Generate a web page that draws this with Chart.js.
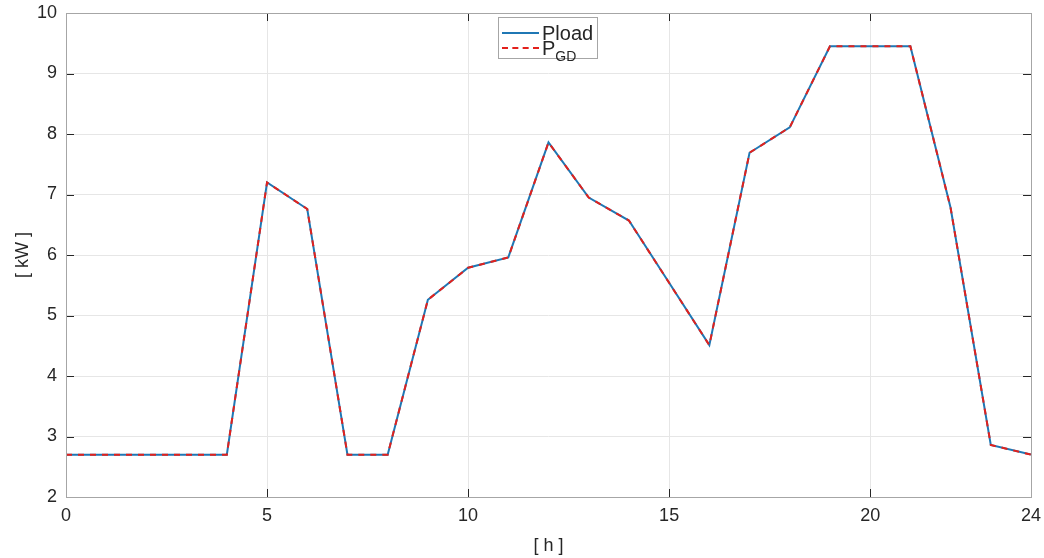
<!DOCTYPE html>
<html>
<head>
<meta charset="utf-8">
<script src="https://cdn.jsdelivr.net/npm/chart.js@4/dist/chart.umd.min.js"></script>
<style>
  html, body { margin: 0; padding: 0; background: #fff; }
  #wrap { position: relative; width: 1044px; height: 558px; }
  #legend {
    position: absolute; background: #fff; border: 1px solid #a6a6a6;
    font-family: "Liberation Sans", Arial, sans-serif; font-size: 20px; color: #262626;
    box-sizing: border-box;
  }
  #legend .row { position: absolute; left: 3px; height: 20px; display: flex; align-items: center; white-space: nowrap; }
  #legend .sw { width: 37px; height: 0; margin-right: 3px; }
  #legend sub { font-size: 14px; position: relative; top: 6px; vertical-align: baseline; line-height: 0; }
</style>
</head>
<body>
<div id="wrap">
  <canvas id="c" width="1044" height="558"></canvas>
  <div id="legend"></div>
</div>
<script>
const hours = [0,1,2,3,4,5,6,7,8,9,10,11,12,13,14,15,16,17,18,19,20,21,22,23,24];
const pload = [2.7,2.7,2.7,2.7,2.7,7.2,6.76,2.7,2.7,5.26,5.79,5.96,7.86,6.95,6.57,5.54,4.51,7.69,8.11,9.45,9.45,9.45,6.78,2.86,2.70];
const pgd   = [2.7,2.7,2.7,2.7,2.7,7.2,6.76,2.7,2.7,5.26,5.79,5.96,7.86,6.95,6.57,5.54,4.51,7.69,8.11,9.45,9.45,9.45,6.78,2.86,2.70];
const seriesNames = ["Pload", "P<sub>GD</sub>"];
const xTitle = "[ h ]";
const yTitle = "[ kW ]";

const FONT = "'Liberation Sans', Arial, sans-serif";
const TXT = '#262626';

const innerTicks = {
  id: 'innerTicks',
  afterDraw(chart) {
    const {ctx, chartArea: a, scales} = chart;
    ctx.save();
    ctx.strokeStyle = '#262626';
    ctx.lineWidth = 1;
    const L = 8;
    scales.x.ticks.forEach(t => {
      const px = Math.round(scales.x.getPixelForValue(t.value)) + 0.5;
      ctx.beginPath();
      ctx.moveTo(px, a.bottom); ctx.lineTo(px, a.bottom - L);
      ctx.moveTo(px, a.top); ctx.lineTo(px, a.top + L);
      ctx.stroke();
    });
    scales.y.ticks.forEach(t => {
      const py = Math.round(scales.y.getPixelForValue(t.value)) + 0.5;
      ctx.beginPath();
      ctx.moveTo(a.left, py); ctx.lineTo(a.left + L, py);
      ctx.moveTo(a.right, py); ctx.lineTo(a.right - L, py);
      ctx.stroke();
    });
    ctx.strokeStyle = '#a6a6a6';
    ctx.strokeRect(Math.round(a.left) + 0.5, Math.round(a.top) + 0.5, Math.round(a.right - a.left), Math.round(a.bottom - a.top));
    ctx.restore();
  }
};

const chart = new Chart(document.getElementById('c'), {
  type: 'line',
  data: {
    datasets: [
      { label: 'Pload', data: hours.map((h, i) => ({x: h, y: pload[i]})), order: 2,
        borderColor: '#1f77b4', borderWidth: 2, pointRadius: 0, tension: 0, fill: false },
      { label: 'PGD', data: hours.map((h, i) => ({x: h, y: pgd[i]})), order: 1,
        borderColor: '#e3211c', borderWidth: 2, borderDash: [6, 6], pointRadius: 0, tension: 0, fill: false }
    ]
  },
  options: {
    responsive: false,
    animation: false,
    layout: { padding: { left: 0, top: 13, right: 13, bottom: 0 } },
    plugins: { legend: { display: false }, tooltip: { enabled: false } },
    scales: {
      x: {
        type: 'linear', min: 0, max: 24,
        ticks: { stepSize: 5, color: TXT, font: { family: FONT, size: 18 }, padding: 8, maxRotation: 0 },
        grid: { color: '#e6e6e6', drawTicks: false },
        border: { display: false },
        title: { display: true, text: xTitle, color: TXT, font: { family: FONT, size: 18 }, padding: { top: 0, bottom: 1 } },
        afterFit(s) { s.height = 61; s.paddingLeft = 0; s.paddingRight = 0; }
      },
      y: {
        type: 'linear', min: 2, max: 10,
        ticks: { stepSize: 1, color: TXT, font: { family: FONT, size: 18 }, padding: 9 },
        grid: { color: '#e6e6e6', drawTicks: false },
        border: { display: false },
        title: { display: true, text: yTitle, color: TXT, font: { family: FONT, size: 18 }, padding: { top: 12, bottom: 0 } },
        afterFit(s) { s.width = 66; s.paddingTop = 0; s.paddingBottom = 0; }
      }
    }
  },
  plugins: [innerTicks]
});

// HTML legend built from datasets
const lg = document.getElementById('legend');
const rowTops = [5, 20];
chart.data.datasets.forEach((ds, i) => {
  const row = document.createElement('div');
  row.className = 'row';
  row.style.top = rowTops[i] + 'px';
  const sw = document.createElement('span');
  sw.className = 'sw';
  sw.style.borderTop = '2px ' + (ds.borderDash ? 'dashed ' : 'solid ') + ds.borderColor;
  const lab = document.createElement('span');
  lab.innerHTML = seriesNames[i];
  row.appendChild(sw); row.appendChild(lab);
  lg.appendChild(row);
});
lg.style.left = '498px';
lg.style.top = '17px';
lg.style.width = '100px';
lg.style.height = '42px';
</script>
</body>
</html>
